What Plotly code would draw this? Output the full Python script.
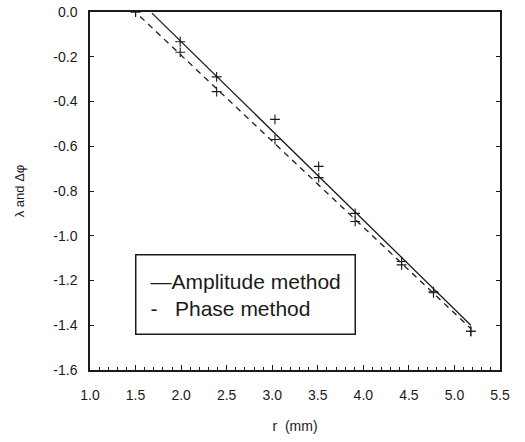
import plotly.graph_objects as go

# measured points (r in mm)
r_pts = [1.50, 1.99, 2.39, 3.03, 3.51, 3.91, 4.42, 4.77, 5.18]
amp_pts = [0.00, -0.133, -0.29, -0.48, -0.69, -0.90, -1.115, -1.25, -1.427]
phase_pts = [0.00, -0.18, -0.356, -0.57, -0.74, -0.936, -1.13, -1.255, -1.427]

# fitted lines
amp_fit_r = [1.68, 5.18]
amp_fit_y = [-0.005, -1.40]
phase_fit_r = [1.55, 5.18]
phase_fit_y = [-0.02, -1.415]

x_ticks = [1.0, 1.5, 2.0, 2.5, 3.0, 3.5, 4.0, 4.5, 5.0, 5.5]
y_ticks = [0.0, -0.2, -0.4, -0.6, -0.8, -1.0, -1.2, -1.4, -1.6]

ink = "#1a1a1a"
fig = go.Figure()
fig.add_trace(go.Scatter(x=amp_fit_r, y=amp_fit_y, mode="lines",
                         line=dict(color=ink, width=1.3), showlegend=False))
fig.add_trace(go.Scatter(x=phase_fit_r, y=phase_fit_y, mode="lines",
                         line=dict(color=ink, width=1.3, dash="6px,5px"), showlegend=False))
fig.add_trace(go.Scatter(x=r_pts, y=amp_pts, mode="markers",
                         marker=dict(symbol="cross-thin", size=7, line=dict(color=ink, width=1.1)),
                         showlegend=False))
fig.add_trace(go.Scatter(x=r_pts, y=phase_pts, mode="markers",
                         marker=dict(symbol="cross-thin", size=7, line=dict(color=ink, width=1.1)),
                         showlegend=False))

fig.add_annotation(x=1.49, y=-1.263, xref="x", yref="y", xanchor="left", yanchor="middle",
                   text="\u2014Amplitude method<br>-   Phase method", showarrow=False, align="left",
                   font=dict(family="Liberation Sans Narrow, Liberation Sans, Arial", size=21, color=ink),
                   bordercolor=ink, borderwidth=1.5, borderpad=14, bgcolor="white")

fig.update_layout(
    width=525, height=442,
    margin=dict(l=90, r=25, t=12, b=72, autoexpand=False),
    paper_bgcolor="white", plot_bgcolor="white",
    font=dict(family="Liberation Sans, Arial", size=14, color=ink),
    xaxis=dict(range=[1.0, 5.5], tickvals=x_ticks, ticktext=[f"{v:.1f}" for v in x_ticks],
               ticks="inside", ticklen=5, tickcolor=ink, showline=True, linecolor=ink, linewidth=1.5,
               mirror=True, showgrid=False, zeroline=False, ticklabelstandoff=11, automargin=False,
               minor=dict(dtick=0.1, ticks="inside", ticklen=3, tickcolor=ink),
               title=dict(text="r  (mm)", font=dict(size=14), standoff=20)),
    yaxis=dict(range=[-1.6, 0.0], tickvals=y_ticks, ticktext=[f"{v:.1f}" for v in y_ticks],
               ticks="inside", ticklen=4, tickcolor=ink, showline=True, linecolor=ink, linewidth=1.5,
               mirror="ticks", showgrid=False, zeroline=False, ticklabelstandoff=8, automargin=False,
               title=dict(text="\u03bb and \u0394\u03c6", font=dict(size=13), standoff=26)),
)
fig.write_html("out.html", config={"displayModeBar": False},
               post_script="document.body.style.margin='0';")
